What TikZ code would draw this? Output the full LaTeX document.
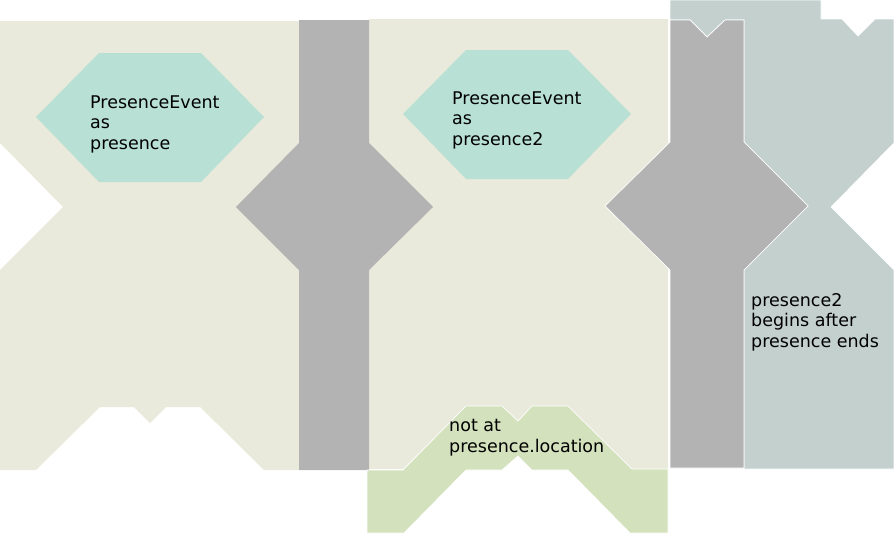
\documentclass[tikz,border=0pt]{standalone}
\usepackage{fontspec}
\setmainfont{DejaVu Sans}
\definecolor{beige}{HTML}{E9EADB}
\definecolor{blockgray}{HTML}{B3B3B3}
\definecolor{slate}{HTML}{C4D0CE}
\definecolor{teal}{HTML}{B8E0D4}
\definecolor{leaf}{HTML}{D3E1BC}
\begin{document}
\begin{tikzpicture}[x=1pt,y=-1pt,
  lbl/.style={anchor=base west,inner sep=0pt,align=left,font=\fontsize{17.5}{20.5}\selectfont},
  edge/.style={draw=white,line width=0.7pt}]
\useasboundingbox (0,0) rectangle (894,533);
% left beige block
\fill[beige] (0,21) -- (300,21) -- (300,470) -- (264,470) -- (200,407) -- (166,407) -- (150,423) -- (134,407) -- (100,407) -- (36,470) -- (0,470) -- (0,270) -- (63,207) -- (0,143) -- cycle;
% middle beige block
\fill[beige] (369,19) -- (668,19) -- (668,469) -- (631,469) -- (567,406) -- (533,406) -- (517,422) -- (501,406) -- (467,406) -- (403,469) -- (369,469) -- cycle;
% slate block
\fill[slate,edge] (670,0) -- (821,0) -- (821,19) -- (842,19) -- (858,36) -- (875,19) -- (894,19) -- (894,143) -- (831,207) -- (894,270) -- (894,469) -- (744,469) -- (744,20) -- (725,20) -- (707,37) -- (690,20) -- (670,20) -- cycle;
% gray block 1
\fill[blockgray] (299,20) -- (369,20) -- (369,143) -- (433,207) -- (369,270) -- (369,470) -- (299,470) -- (299,270) -- (236,207) -- (299,143) -- cycle;
% gray block 2
\fill[blockgray,edge] (670,20) -- (690,20) -- (707,37) -- (725,20) -- (744,20) -- (744,142) -- (808,206) -- (744,270) -- (744,468) -- (670,468) -- (670,270) -- (605,206) -- (670,142) -- cycle;
% green block
\fill[leaf,edge] (367,470) -- (403,470) -- (466,406) -- (502,406) -- (518,421) -- (532,406) -- (568,406) -- (632,469) -- (668,469) -- (668,533) -- (630,533) -- (568,470) -- (532,470) -- (518,456) -- (502,470) -- (466,470) -- (404,533) -- (367,533) -- cycle;
% hexagons
\fill[teal] (99,53) -- (201,53) -- (264,117) -- (201,182) -- (99,182) -- (36,117) -- cycle;
\fill[teal] (466,50) -- (568,50) -- (631,114) -- (568,179) -- (466,179) -- (403,114) -- cycle;
% texts (anchor = baseline of the last line)
\node[lbl] (t1) at (90,149) {PresenceEvent\\as\\presence};
\node[lbl] (t2) at (452,145) {PresenceEvent\\as\\presence2};
\node[lbl] (t3) at (449,452) {not at\\presence.location};
\node[lbl] (t4) at (751,347) {presence2\\begins after\\presence ends};
\end{tikzpicture}
\end{document}
